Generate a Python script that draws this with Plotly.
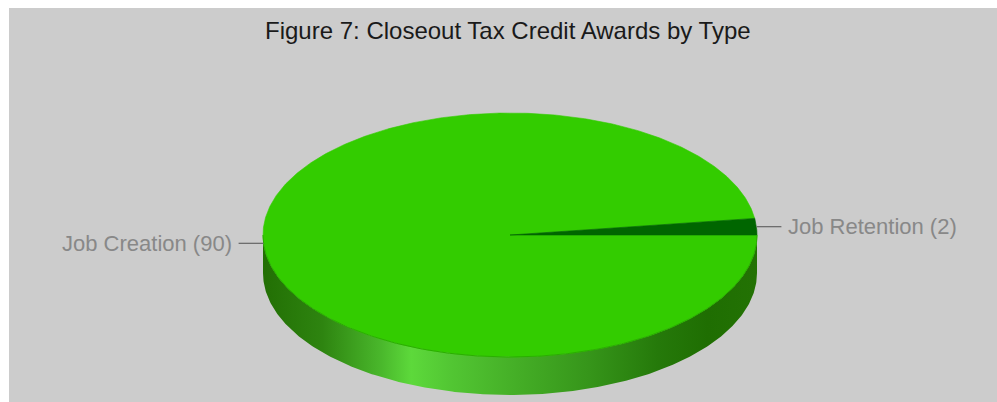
import numpy as np
import plotly.graph_objects as go

# Award counts by type
categories = ["Job Creation", "Job Retention"]
values = [90, 2]
slice_colors = ["#33cc00", "#006600"]
title_text = "Figure 7: Closeout Tax Credit Awards by Type"

# Pie geometry (pixel space of the plot area)
CX, CY = 510.0, 235.0
RX, RY = 247.0, 122.0
DEPTH = 38.0
W, H = 997, 402

fig = go.Figure()


def arc(t0, t1, n=200, dy=0.0):
    t = np.linspace(t0, t1, n)
    return CX + RX * np.cos(t), CY - RY * np.sin(t) + dy


# Side wall of the disc (front half), shaded with a horizontal gradient
xa, ya = arc(np.pi, 2 * np.pi, 300)
xb, yb = arc(2 * np.pi, np.pi, 300, DEPTH)
fig.add_trace(go.Scatter(
    x=np.concatenate([xa, xb]), y=np.concatenate([ya, yb]),
    mode="lines", line=dict(width=0), fill="toself",
    fillgradient=dict(
        type="horizontal", start=CX - RX, stop=CX + RX,
        colorscale=[
            [0.00, "#226f04"], [0.12, "#2e8410"], [0.24, "#4ab82c"],
            [0.30, "#5dd93b"], [0.38, "#52c633"], [0.52, "#44ad26"],
            [0.66, "#36951a"], [0.80, "#25790a"], [0.90, "#1f6e02"],
            [1.00, "#237204"],
        ],
    ),
    hoverinfo="skip", showlegend=False,
))

# Top face: slices laid out clockwise from 3 o'clock
total = float(sum(values))
start = 0.0
mids = []
for name, v, col in zip(categories, values, slice_colors):
    sweep = 2 * np.pi * v / total
    t0, t1 = start, start - sweep
    n = max(int(abs(t1 - t0) * 120), 8)
    ax, ay = arc(t0, t1, n)
    fig.add_trace(go.Scatter(
        x=np.concatenate([[CX], ax, [CX]]), y=np.concatenate([[CY], ay, [CY]]),
        mode="lines", line=dict(width=0.6, color=col), fill="toself",
        fillcolor=col, name=f"{name} ({v})", hoverinfo="name",
        showlegend=False,
    ))
    mids.append((t0 + t1) / 2)
    start = t1

# Subtle rim along the front edge of the top face
rx_, ry_ = arc(np.pi, 2 * np.pi, 300)
fig.add_trace(go.Scatter(x=rx_, y=ry_, mode="lines",
                         line=dict(width=1, color="#2aae00"),
                         hoverinfo="skip", showlegend=False))

# Leader lines and labels
LEAD = 25.0
annotations = []
for name, v, m in zip(categories, values, mids):
    ex, ey = CX + RX * np.cos(m), CY - RY * np.sin(m)
    side = 1 if np.cos(m) >= 0 else -1
    lx = ex + side * LEAD
    fig.add_trace(go.Scatter(x=[ex, lx], y=[ey, ey], mode="lines",
                             line=dict(width=1.3, color="#6e6e6e"),
                             hoverinfo="skip", showlegend=False))
    annotations.append(dict(
        x=lx + side * 5, y=ey, xref="x", yref="y",
        text=f"{name} ({v})", showarrow=False,
        xanchor="left" if side > 0 else "right", yanchor="middle",
        font=dict(family="Liberation Sans, Arial, sans-serif", size=22,
                  color="#888888"),
    ))

annotations.append(dict(
    x=508, y=30, xref="x", yref="y", text=title_text, showarrow=False,
    xanchor="center", yanchor="middle",
    font=dict(family="Liberation Sans, Arial, sans-serif", size=24,
              color="#1a1a1a"),
))

fig.update_layout(
    width=W, height=H,
    margin=dict(l=9, r=0, t=8, b=0),
    paper_bgcolor="#ffffff", plot_bgcolor="#cccccc",
    xaxis=dict(range=[9, W], visible=False, fixedrange=True),
    yaxis=dict(range=[H, 8], visible=False, fixedrange=True),
    annotations=annotations,
    showlegend=False,
)

fig.write_html("out.html")
